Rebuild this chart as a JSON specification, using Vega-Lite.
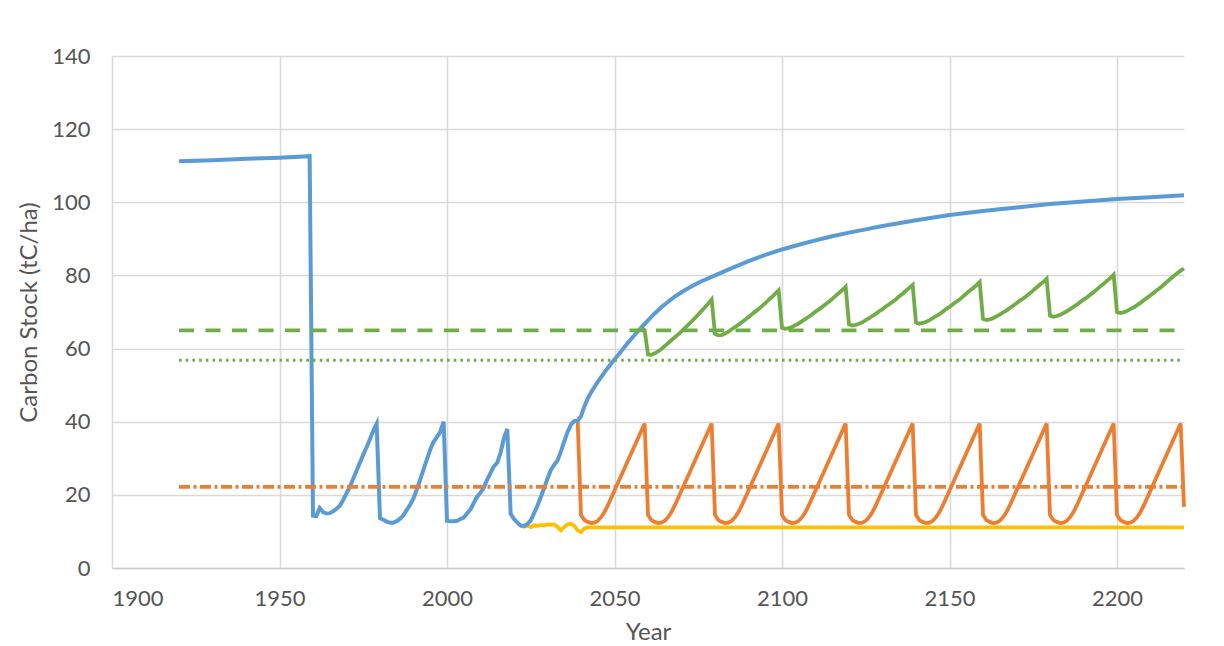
{
  "$schema": "https://vega.github.io/schema/vega-lite/v6.json",
  "autosize": "none",
  "width": 1072,
  "height": 512,
  "padding": {"left": 112, "top": 56, "right": 40, "bottom": 78},
  "background": "#ffffff",
  "config": {
    "font": "Lato",
    "view": {"stroke": null},
    "axis": {
      "labelFont": "Lato",
      "titleFont": "Lato",
      "labelFontSize": 22,
      "titleFontSize": 24,
      "labelColor": "#555555",
      "titleColor": "#555555",
      "titleFontWeight": "normal",
      "ticks": false,
      "gridColor": "#d9d9d9",
      "gridWidth": 1.6,
      "domainColor": "#cccccc",
      "domainWidth": 1.6
    }
  },
  "datasets": {
    "blue": [
      {"year": 1920, "value": 111.2}, {"year": 1930, "value": 111.5}, {"year": 1940, "value": 111.9},
      {"year": 1950, "value": 112.2}, {"year": 1959, "value": 112.6}, {"year": 1960, "value": 14.3},
      {"year": 1961, "value": 14.2}, {"year": 1962, "value": 16.4}, {"year": 1963, "value": 15.3},
      {"year": 1964, "value": 14.9}, {"year": 1965, "value": 15.0}, {"year": 1966, "value": 15.5},
      {"year": 1967, "value": 16.2}, {"year": 1968, "value": 17.0}, {"year": 1969, "value": 18.6},
      {"year": 1970, "value": 20.4}, {"year": 1971, "value": 22.2}, {"year": 1972, "value": 24.4},
      {"year": 1973, "value": 26.6}, {"year": 1974, "value": 28.8}, {"year": 1975, "value": 31.0},
      {"year": 1976, "value": 33.0}, {"year": 1977, "value": 35.2}, {"year": 1978, "value": 37.6},
      {"year": 1979, "value": 39.4}, {"year": 1980, "value": 13.6}, {"year": 1981, "value": 13.2},
      {"year": 1982, "value": 12.7}, {"year": 1983, "value": 12.4}, {"year": 1984, "value": 12.4},
      {"year": 1985, "value": 12.8}, {"year": 1986, "value": 13.5}, {"year": 1987, "value": 14.4},
      {"year": 1988, "value": 15.9}, {"year": 1989, "value": 17.3}, {"year": 1990, "value": 19.0},
      {"year": 1991, "value": 21.5}, {"year": 1992, "value": 24.2}, {"year": 1993, "value": 27.0},
      {"year": 1994, "value": 29.7}, {"year": 1995, "value": 32.4}, {"year": 1996, "value": 34.5},
      {"year": 1997, "value": 35.8}, {"year": 1998, "value": 37.2}, {"year": 1999, "value": 40.0},
      {"year": 2000, "value": 12.9}, {"year": 2001, "value": 12.8}, {"year": 2002, "value": 12.8},
      {"year": 2003, "value": 12.9}, {"year": 2004, "value": 13.4}, {"year": 2005, "value": 13.8},
      {"year": 2006, "value": 14.9}, {"year": 2007, "value": 16.0}, {"year": 2008, "value": 17.8},
      {"year": 2009, "value": 19.5}, {"year": 2010, "value": 20.6}, {"year": 2011, "value": 22.0},
      {"year": 2012, "value": 24.2}, {"year": 2013, "value": 26.0}, {"year": 2014, "value": 27.8},
      {"year": 2015, "value": 28.8}, {"year": 2016, "value": 31.5}, {"year": 2017, "value": 35.5},
      {"year": 2018, "value": 38.0}, {"year": 2019, "value": 14.8}, {"year": 2020, "value": 13.4},
      {"year": 2021, "value": 12.4}, {"year": 2022, "value": 11.6}, {"year": 2023, "value": 11.5},
      {"year": 2024, "value": 12.0}, {"year": 2025, "value": 13.0}, {"year": 2026, "value": 15.0},
      {"year": 2027, "value": 17.0}, {"year": 2028, "value": 19.4}, {"year": 2029, "value": 21.8},
      {"year": 2030, "value": 24.4}, {"year": 2031, "value": 26.8}, {"year": 2032, "value": 28.2},
      {"year": 2033, "value": 29.4}, {"year": 2034, "value": 31.8}, {"year": 2035, "value": 34.6},
      {"year": 2036, "value": 37.2}, {"year": 2037, "value": 39.2}, {"year": 2038, "value": 40.2},
      {"year": 2039, "value": 40.3}, {"year": 2040, "value": 41.5}, {"year": 2041, "value": 44.2},
      {"year": 2042, "value": 46.3}, {"year": 2043, "value": 48.0}, {"year": 2044, "value": 49.5},
      {"year": 2045, "value": 50.9}, {"year": 2046, "value": 52.2}, {"year": 2047, "value": 53.5},
      {"year": 2048, "value": 54.7}, {"year": 2049, "value": 55.9}, {"year": 2050, "value": 57.0},
      {"year": 2052, "value": 59.3}, {"year": 2054, "value": 61.6}, {"year": 2056, "value": 63.7},
      {"year": 2058, "value": 65.8}, {"year": 2060, "value": 67.7}, {"year": 2062, "value": 69.6},
      {"year": 2064, "value": 71.3}, {"year": 2066, "value": 72.8}, {"year": 2068, "value": 74.2},
      {"year": 2070, "value": 75.4}, {"year": 2072, "value": 76.5}, {"year": 2075, "value": 78.0},
      {"year": 2080, "value": 80.0}, {"year": 2085, "value": 82.0}, {"year": 2090, "value": 83.9},
      {"year": 2095, "value": 85.6}, {"year": 2100, "value": 87.1}, {"year": 2105, "value": 88.4},
      {"year": 2110, "value": 89.6}, {"year": 2115, "value": 90.7}, {"year": 2120, "value": 91.7},
      {"year": 2125, "value": 92.6}, {"year": 2130, "value": 93.5}, {"year": 2140, "value": 95.1},
      {"year": 2150, "value": 96.5}, {"year": 2160, "value": 97.6}, {"year": 2170, "value": 98.6},
      {"year": 2180, "value": 99.5}, {"year": 2190, "value": 100.2}, {"year": 2200, "value": 100.9},
      {"year": 2210, "value": 101.4}, {"year": 2220, "value": 101.9}
    ],
    "orange": [
      {"year": 2039, "value": 40.3},
      {"year": 2040, "value": 14.5}, {"year": 2041, "value": 13.1}, {"year": 2042, "value": 12.6}, {"year": 2043, "value": 12.3}, {"year": 2044, "value": 12.4}, {"year": 2045, "value": 12.9}, {"year": 2046, "value": 13.9}, {"year": 2047, "value": 15.3}, {"year": 2048, "value": 17.1}, {"year": 2059, "value": 39.5},
      {"year": 2060, "value": 14.5}, {"year": 2061, "value": 13.1}, {"year": 2062, "value": 12.6}, {"year": 2063, "value": 12.3}, {"year": 2064, "value": 12.4}, {"year": 2065, "value": 12.9}, {"year": 2066, "value": 13.9}, {"year": 2067, "value": 15.3}, {"year": 2068, "value": 17.1}, {"year": 2079, "value": 39.5},
      {"year": 2080, "value": 14.5}, {"year": 2081, "value": 13.1}, {"year": 2082, "value": 12.6}, {"year": 2083, "value": 12.3}, {"year": 2084, "value": 12.4}, {"year": 2085, "value": 12.9}, {"year": 2086, "value": 13.9}, {"year": 2087, "value": 15.3}, {"year": 2088, "value": 17.1}, {"year": 2099, "value": 39.5},
      {"year": 2100, "value": 14.5}, {"year": 2101, "value": 13.1}, {"year": 2102, "value": 12.6}, {"year": 2103, "value": 12.3}, {"year": 2104, "value": 12.4}, {"year": 2105, "value": 12.9}, {"year": 2106, "value": 13.9}, {"year": 2107, "value": 15.3}, {"year": 2108, "value": 17.1}, {"year": 2119, "value": 39.5},
      {"year": 2120, "value": 14.5}, {"year": 2121, "value": 13.1}, {"year": 2122, "value": 12.6}, {"year": 2123, "value": 12.3}, {"year": 2124, "value": 12.4}, {"year": 2125, "value": 12.9}, {"year": 2126, "value": 13.9}, {"year": 2127, "value": 15.3}, {"year": 2128, "value": 17.1}, {"year": 2139, "value": 39.5},
      {"year": 2140, "value": 14.5}, {"year": 2141, "value": 13.1}, {"year": 2142, "value": 12.6}, {"year": 2143, "value": 12.3}, {"year": 2144, "value": 12.4}, {"year": 2145, "value": 12.9}, {"year": 2146, "value": 13.9}, {"year": 2147, "value": 15.3}, {"year": 2148, "value": 17.1}, {"year": 2159, "value": 39.5},
      {"year": 2160, "value": 14.5}, {"year": 2161, "value": 13.1}, {"year": 2162, "value": 12.6}, {"year": 2163, "value": 12.3}, {"year": 2164, "value": 12.4}, {"year": 2165, "value": 12.9}, {"year": 2166, "value": 13.9}, {"year": 2167, "value": 15.3}, {"year": 2168, "value": 17.1}, {"year": 2179, "value": 39.5},
      {"year": 2180, "value": 14.5}, {"year": 2181, "value": 13.1}, {"year": 2182, "value": 12.6}, {"year": 2183, "value": 12.3}, {"year": 2184, "value": 12.4}, {"year": 2185, "value": 12.9}, {"year": 2186, "value": 13.9}, {"year": 2187, "value": 15.3}, {"year": 2188, "value": 17.1}, {"year": 2199, "value": 39.5},
      {"year": 2200, "value": 14.5}, {"year": 2201, "value": 13.1}, {"year": 2202, "value": 12.6}, {"year": 2203, "value": 12.3}, {"year": 2204, "value": 12.4}, {"year": 2205, "value": 12.9}, {"year": 2206, "value": 13.9}, {"year": 2207, "value": 15.3}, {"year": 2208, "value": 17.1}, {"year": 2219, "value": 39.5},
      {"year": 2220, "value": 16.7}
    ],
    "green": [
      {"year": 2058, "value": 65.8}, {"year": 2059, "value": 65.0},
      {"year": 2060, "value": 58.4}, {"year": 2061, "value": 58.3}, {"year": 2062, "value": 58.7}, {"year": 2063, "value": 59.2}, {"year": 2064, "value": 59.9}, {"year": 2065, "value": 60.7}, {"year": 2066, "value": 61.5}, {"year": 2067, "value": 62.3}, {"year": 2068, "value": 63.1}, {"year": 2069, "value": 63.9}, {"year": 2070, "value": 64.7}, {"year": 2071, "value": 65.6}, {"year": 2072, "value": 66.5}, {"year": 2073, "value": 67.4}, {"year": 2074, "value": 68.3}, {"year": 2075, "value": 69.3}, {"year": 2076, "value": 70.3}, {"year": 2077, "value": 71.3}, {"year": 2078, "value": 72.3}, {"year": 2079, "value": 73.4},
      {"year": 2080, "value": 64.0}, {"year": 2081, "value": 63.6}, {"year": 2082, "value": 63.7}, {"year": 2083, "value": 64.1}, {"year": 2084, "value": 64.6}, {"year": 2085, "value": 65.3}, {"year": 2086, "value": 65.9}, {"year": 2087, "value": 66.5}, {"year": 2088, "value": 67.2}, {"year": 2089, "value": 67.9}, {"year": 2090, "value": 68.6}, {"year": 2091, "value": 69.4}, {"year": 2092, "value": 70.1}, {"year": 2093, "value": 70.8}, {"year": 2094, "value": 71.6}, {"year": 2095, "value": 72.4}, {"year": 2096, "value": 73.3}, {"year": 2097, "value": 74.1}, {"year": 2098, "value": 75.0}, {"year": 2099, "value": 75.9},
      {"year": 2100, "value": 65.7}, {"year": 2101, "value": 65.4}, {"year": 2102, "value": 65.6}, {"year": 2103, "value": 65.9}, {"year": 2104, "value": 66.4}, {"year": 2105, "value": 66.9}, {"year": 2106, "value": 67.5}, {"year": 2107, "value": 68.1}, {"year": 2108, "value": 68.7}, {"year": 2109, "value": 69.4}, {"year": 2110, "value": 70.1}, {"year": 2111, "value": 70.7}, {"year": 2112, "value": 71.4}, {"year": 2113, "value": 72.1}, {"year": 2114, "value": 72.8}, {"year": 2115, "value": 73.6}, {"year": 2116, "value": 74.4}, {"year": 2117, "value": 75.2}, {"year": 2118, "value": 76.0}, {"year": 2119, "value": 76.9},
      {"year": 2120, "value": 66.6}, {"year": 2121, "value": 66.3}, {"year": 2122, "value": 66.5}, {"year": 2123, "value": 66.8}, {"year": 2124, "value": 67.2}, {"year": 2125, "value": 67.8}, {"year": 2126, "value": 68.3}, {"year": 2127, "value": 68.9}, {"year": 2128, "value": 69.5}, {"year": 2129, "value": 70.2}, {"year": 2130, "value": 70.8}, {"year": 2131, "value": 71.5}, {"year": 2132, "value": 72.1}, {"year": 2133, "value": 72.8}, {"year": 2134, "value": 73.5}, {"year": 2135, "value": 74.3}, {"year": 2136, "value": 75.0}, {"year": 2137, "value": 75.8}, {"year": 2138, "value": 76.6}, {"year": 2139, "value": 77.4},
      {"year": 2140, "value": 67.1}, {"year": 2141, "value": 66.8}, {"year": 2142, "value": 67.0}, {"year": 2143, "value": 67.3}, {"year": 2144, "value": 67.8}, {"year": 2145, "value": 68.3}, {"year": 2146, "value": 68.9}, {"year": 2147, "value": 69.4}, {"year": 2148, "value": 70.1}, {"year": 2149, "value": 70.8}, {"year": 2150, "value": 71.4}, {"year": 2151, "value": 72.1}, {"year": 2152, "value": 72.8}, {"year": 2153, "value": 73.4}, {"year": 2154, "value": 74.2}, {"year": 2155, "value": 75.0}, {"year": 2156, "value": 75.8}, {"year": 2157, "value": 76.5}, {"year": 2158, "value": 77.3}, {"year": 2159, "value": 78.2},
      {"year": 2160, "value": 68.1}, {"year": 2161, "value": 67.8}, {"year": 2162, "value": 68.0}, {"year": 2163, "value": 68.3}, {"year": 2164, "value": 68.8}, {"year": 2165, "value": 69.3}, {"year": 2166, "value": 69.9}, {"year": 2167, "value": 70.4}, {"year": 2168, "value": 71.1}, {"year": 2169, "value": 71.7}, {"year": 2170, "value": 72.4}, {"year": 2171, "value": 73.1}, {"year": 2172, "value": 73.7}, {"year": 2173, "value": 74.4}, {"year": 2174, "value": 75.1}, {"year": 2175, "value": 75.9}, {"year": 2176, "value": 76.7}, {"year": 2177, "value": 77.5}, {"year": 2178, "value": 78.2}, {"year": 2179, "value": 79.1},
      {"year": 2180, "value": 69.0}, {"year": 2181, "value": 68.7}, {"year": 2182, "value": 68.9}, {"year": 2183, "value": 69.2}, {"year": 2184, "value": 69.7}, {"year": 2185, "value": 70.2}, {"year": 2186, "value": 70.8}, {"year": 2187, "value": 71.4}, {"year": 2188, "value": 72.0}, {"year": 2189, "value": 72.7}, {"year": 2190, "value": 73.4}, {"year": 2191, "value": 74.0}, {"year": 2192, "value": 74.7}, {"year": 2193, "value": 75.4}, {"year": 2194, "value": 76.2}, {"year": 2195, "value": 77.0}, {"year": 2196, "value": 77.7}, {"year": 2197, "value": 78.5}, {"year": 2198, "value": 79.3}, {"year": 2199, "value": 80.2},
      {"year": 2200, "value": 70.0}, {"year": 2201, "value": 69.7}, {"year": 2202, "value": 69.9}, {"year": 2203, "value": 70.3}, {"year": 2204, "value": 70.8}, {"year": 2205, "value": 71.3}, {"year": 2206, "value": 71.9}, {"year": 2207, "value": 72.5}, {"year": 2208, "value": 73.2}, {"year": 2209, "value": 73.9}, {"year": 2210, "value": 74.6}, {"year": 2211, "value": 75.3}, {"year": 2212, "value": 76.0}, {"year": 2213, "value": 76.7}, {"year": 2214, "value": 77.5}, {"year": 2215, "value": 78.3}, {"year": 2216, "value": 79.1}, {"year": 2217, "value": 79.9}, {"year": 2218, "value": 80.6}, {"year": 2219, "value": 81.3}, {"year": 2220, "value": 81.9}
    ],
    "yellow": [
      {"year": 2022, "value": 11.6}, {"year": 2023, "value": 11.3}, {"year": 2024, "value": 11.6}, {"year": 2025, "value": 11.2},
      {"year": 2026, "value": 11.7}, {"year": 2027, "value": 11.5}, {"year": 2028, "value": 11.8}, {"year": 2029, "value": 11.6},
      {"year": 2030, "value": 11.9}, {"year": 2031, "value": 11.8}, {"year": 2032, "value": 11.9}, {"year": 2033, "value": 11.2},
      {"year": 2034, "value": 10.3}, {"year": 2035, "value": 11.2}, {"year": 2036, "value": 11.9}, {"year": 2037, "value": 12.1},
      {"year": 2038, "value": 11.5}, {"year": 2039, "value": 10.3}, {"year": 2040, "value": 9.8}, {"year": 2041, "value": 10.8},
      {"year": 2042, "value": 11.1}, {"year": 2043, "value": 11.1}, {"year": 2220, "value": 11.1}
    ],
    "greenDashed": [{"year": 1920, "value": 65.0}, {"year": 2220, "value": 65.0}],
    "greenDotted": [{"year": 1920, "value": 56.8}, {"year": 2220, "value": 56.8}],
    "orangeDashDot": [{"year": 1920, "value": 22.2}, {"year": 2220, "value": 22.2}]
  },
  "encoding": {
    "x": {
      "field": "year",
      "type": "quantitative",
      "scale": {"domain": [1900, 2220], "nice": false, "zero": false},
      "axis": {
        "values": [1900, 1950, 2000, 2050, 2100, 2150, 2200],
        "format": "d",
        "labelPadding": 20,
        "title": "Year",
        "titlePadding": 11,
        "grid": true
      }
    },
    "y": {
      "field": "value",
      "type": "quantitative",
      "scale": {"domain": [0, 140], "nice": false},
      "axis": {
        "values": [0, 20, 40, 60, 80, 100, 120, 140],
        "labelPadding": 22,
        "title": "Carbon Stock (tC/ha)",
        "titlePadding": 10,
        "domain": false,
        "grid": true
      }
    }
  },
  "layer": [
    {"data": {"name": "yellow"}, "mark": {"type": "line", "color": "#FFC000", "strokeWidth": 3.8}},
    {"data": {"name": "orange"}, "mark": {"type": "line", "color": "#ED7D31", "strokeWidth": 3.8}},
    {"data": {"name": "green"}, "mark": {"type": "line", "color": "#70AD47", "strokeWidth": 3.8}},
    {"data": {"name": "blue"}, "mark": {"type": "line", "color": "#5B9BD5", "strokeWidth": 4}},
    {"data": {"name": "greenDashed"}, "mark": {"type": "line", "color": "#70AD47", "strokeWidth": 3.8, "strokeDash": [15, 11.5]}},
    {"data": {"name": "greenDotted"}, "mark": {"type": "line", "color": "#70AD47", "strokeWidth": 2.8, "strokeDash": [2.6, 4.1]}},
    {"data": {"name": "orangeDashDot"}, "mark": {"type": "line", "color": "#ED7D31", "strokeWidth": 3.8, "strokeDash": [11, 3.5, 3, 3.5]}}
  ]
}
